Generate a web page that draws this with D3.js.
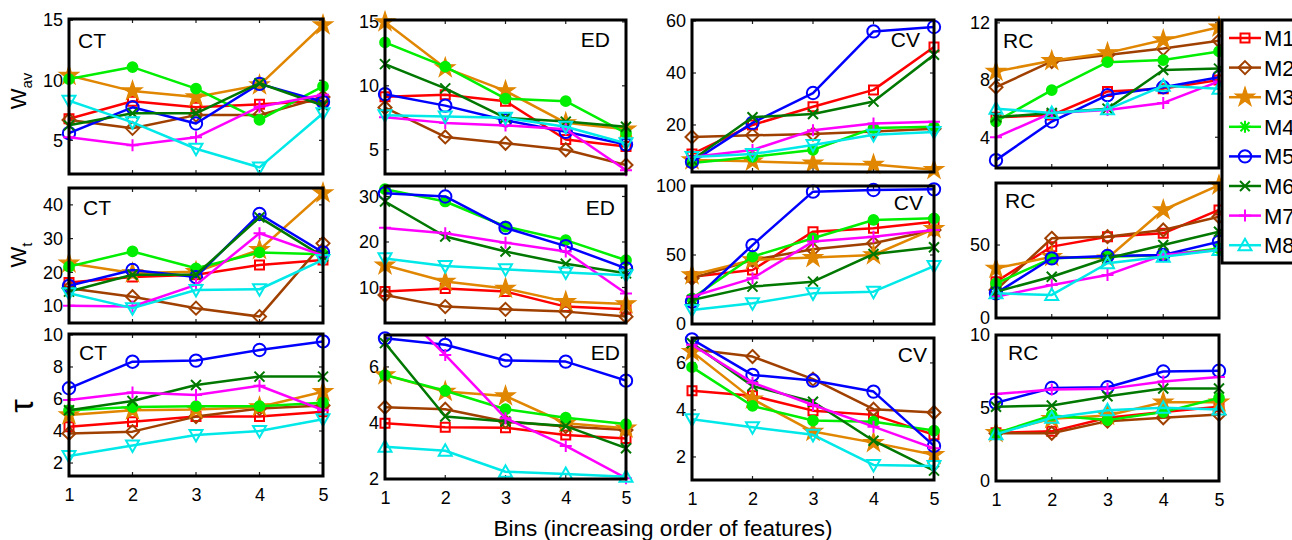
<!DOCTYPE html>
<html><head><meta charset="utf-8">
<script src="https://cdn.jsdelivr.net/npm/d3@7"></script>
<style>
body{margin:0;background:#fff}
svg{display:block}
text{font-family:"Liberation Sans",Arial,Helvetica,sans-serif;fill:#000}
</style>
</head><body>
<svg id="chart" width="1292" height="540"></svg>
<script>
// ---------------- data ----------------
const bins = [1, 2, 3, 4, 5];
const seriesNames = ["M1", "M2", "M3", "M4", "M5", "M6", "M7", "M8"];
const seriesColors = ["#ff0000", "#a04000", "#e08600", "#00ee00", "#0000ff", "#007800", "#ff00ff", "#00e8e8"];
const seriesMarkers = ["square", "diamond", "star", "dot", "circle", "x", "plus", "tri"];

// W_av row
const wavCT = [
  [6.8, 8.25, 7.75, 8.0, 8.3],
  [6.7, 6.0, 7.1, 7.1, 8.6],
  [10.4, 9.1, 8.6, 9.6, 14.6],
  [10.1, 11.1, 9.3, 6.7, 9.5],
  [5.6, 7.75, 6.4, 9.7, 8.2],
  [6.25, 7.25, 7.25, 9.75, 7.9],
  [5.25, 4.6, 5.25, 7.8, 8.8],
  [8.3, 6.5, 4.3, 2.75, 7.25]
];
const wavED = [
  [9.15, 9.3, 8.8, 5.8, 5.25],
  [8.3, 6.0, 5.5, 5.0, 3.8],
  [15.0, 11.4, 9.6, 7.1, 6.6],
  [13.4, 11.5, 9.0, 8.8, 6.3],
  [9.35, 8.45, 7.3, 6.4, 5.4],
  [11.7, 9.8, 7.5, 7.2, 6.8],
  [7.55, 7.1, 6.9, 6.6, 3.4],
  [7.7, 7.6, 7.5, 6.8, 5.5]
];
const wavCV = [
  [8.8, 20, 27, 33.5, 50],
  [15.4, 16, 16.5, 17.5, 18.5],
  [6.5, 6, 5.3, 4.8, 2.8],
  [5.4, 7.7, 10.4, 18.8, 19.3],
  [5.8, 20.8, 32.3, 56, 57.7],
  [6.5, 23, 24.2, 29, 47],
  [7.7, 10.4, 18, 20.6, 21.2],
  [7.7, 8.8, 12.3, 16.2, 17.3]
];
const wavRC = [
  [5.4, 5.55, 7.2, 7.4, 8.0],
  [7.5, 9.3, 9.75, 10.2, 10.75],
  [8.6, 9.35, 9.9, 10.8, 11.7],
  [5.1, 7.3, 9.25, 9.4, 10.0],
  [2.4, 5.1, 6.95, 7.5, 8.2],
  [5.4, 5.7, 6.0, 8.7, 8.8],
  [4.0, 5.7, 5.9, 6.4, 7.9],
  [6.0, 5.7, 5.95, 7.6, 7.4]
];
// W_t row
const wtCT = [
  [17.0, 18.6, 19.3, 22.2, 23.7],
  [15.3, 12.8, 9.4, 6.9, 28.6],
  [22.7, 19.8, 20.2, 26.7, 43.5],
  [21.7, 26.2, 21.2, 25.9, 25.4],
  [16.0, 20.7, 18.6, 37.3, 25.9],
  [14.3, 19.3, 19.3, 36.3, 24.7],
  [10.1, 9.9, 16.3, 31.6, 25.0],
  [13.8, 9.4, 14.8, 15.0, 23.7]
];
const wtED = [
  [9.1, 9.8, 9.1, 5.8, 5.2],
  [8.35, 5.8, 5.2, 4.7, 3.6],
  [14.9, 11.3, 9.8, 6.9, 6.4],
  [31.6, 28.9, 23.4, 20.4, 16.0],
  [30.7, 30.0, 23.1, 19.1, 14.2],
  [28.9, 21.2, 17.9, 15.2, 13.1],
  [23.1, 21.9, 19.85, 17.9, 8.7],
  [16.4, 14.7, 14.0, 13.3, 12.7]
];
const wtCV = [
  [34.3, 39.1, 66.9, 69.3, 74.1],
  [33.1, 46.4, 54.1, 58.5, 68.1],
  [35.5, 46.4, 48.1, 50, 69],
  [18.6, 48.8, 62.1, 75.4, 76.6],
  [16.2, 57.2, 95.9, 97.1, 97.6],
  [17.4, 27.1, 30.7, 50.7, 55.6],
  [19.8, 33.1, 59.7, 63.3, 68.1],
  [10.1, 15, 22.2, 23.4, 42]
];
const wtRC = [
  [24.9, 48.9, 55.7, 58, 74],
  [19.2, 54.6, 55.7, 60.3, 69.4],
  [34, 42, 41, 74, 91],
  [23.7, 40.9, 42, 43, 47.7],
  [16.9, 40.9, 42.5, 43.2, 52.3],
  [18, 28.3, 40.9, 50, 59.1],
  [14.6, 22.6, 29.5, 43.2, 46.6],
  [16.9, 15.8, 37.5, 42, 46.6]
];
// tau row
const tauCT = [
  [4.27, 4.58, 4.9, 4.9, 5.2],
  [3.85, 3.96, 4.9, 5.4, 5.6],
  [5.0, 5.3, 5.35, 5.5, 6.45],
  [5.3, 5.5, 5.55, 5.55, 5.77],
  [6.67, 8.33, 8.4, 9.06, 9.6],
  [5.3, 5.87, 6.87, 7.4, 7.4],
  [5.93, 6.4, 6.25, 6.83, 5.3],
  [2.44, 3.1, 3.75, 4.0, 4.73]
];
const tauED = [
  [3.99, 3.85, 3.83, 3.57, 3.45],
  [4.56, 4.49, 4.05, 3.87, 3.75],
  [5.71, 5.12, 4.96, 3.99, 3.81],
  [5.71, 5.15, 4.49, 4.19, 3.96],
  [7.02, 6.79, 6.23, 6.19, 5.51],
  [6.85, 4.23, 4.05, 3.89, 3.1],
  [8.56, 6.43, 4.17, 3.18, 2.03],
  [3.15, 3.01, 2.26, 2.18, 2.08]
];
const tauCV = [
  [4.82, 4.6, 3.97, 3.79, 2.94],
  [6.58, 6.27, 5.31, 4.03, 3.89],
  [6.48, 4.46, 3.08, 2.61, 2.09],
  [5.82, 4.17, 3.55, 3.5, 3.12],
  [7.0, 5.49, 5.25, 4.78, 2.47],
  [6.84, 5.02, 4.35, 2.69, 1.42],
  [6.77, 5.16, 4.21, 3.29, 2.37],
  [3.6, 3.26, 2.94, 1.66, 1.62]
];
const tauRC = [
  [3.31, 3.4, 4.33, 4.72, 5.08],
  [3.27, 3.27, 4.1, 4.33, 4.56],
  [3.31, 4.26, 4.49, 5.4, 5.4],
  [3.27, 4.49, 4.17, 4.72, 5.69],
  [5.35, 6.37, 6.42, 7.5, 7.55],
  [5.08, 5.17, 5.8, 6.33, 6.33],
  [5.96, 6.26, 6.31, 6.82, 7.12],
  [3.2, 4.33, 4.85, 5.01, 4.9]
];

const ticksWavCT = [5, 10, 15], ticksWavED = [5, 10, 15], ticksWavCV = [20, 40, 60], ticksWavRC = [4, 8, 12];
const ticksWtCT = [10, 20, 30, 40], ticksWtED = [10, 20, 30], ticksWtCV = [0, 50, 100], ticksWtRC = [0, 50];
const ticksTauCT = [2, 4, 6, 8, 10], ticksTauED = [2, 4, 6], ticksTauCV = [2, 4, 6], ticksTauRC = [0, 5, 10];
const panelLabels = ["CT", "ED", "CV", "RC"];
const xTitle = "Bins (increasing order of features)";

// ---------------- layout ----------------
const cols = [[69, 323], [385, 626], [692, 934], [996, 1219]];
const panels = [
  {data: wavCT, ticks: ticksWavCT, dom: [2.2, 15.1], y: [19, 174], lab: 0, lx: 78, ly: 48, anchor: "start", c: 0, tri: "down"},
  {data: wavED, ticks: ticksWavED, dom: [3.1, 15.15], y: [20, 174], lab: 1, lx: 610, ly: 47, anchor: "end", c: 1, tri: "down"},
  {data: wavCV, ticks: ticksWavCV, dom: [1.9, 60.4], y: [20, 172], lab: 2, lx: 920, ly: 47, anchor: "end", c: 2, tri: "down"},
  {data: wavRC, ticks: ticksWavRC, dom: [1.85, 12.2], y: [20, 168], lab: 3, lx: 1003, ly: 48, anchor: "start", c: 3, tri: "up"},
  {data: wtCT, ticks: ticksWtCT, dom: [5, 45], y: [188, 323], lab: 0, lx: 83, ly: 215, anchor: "start", c: 0, tri: "down"},
  {data: wtED, ticks: ticksWtED, dom: [2.2, 32.3], y: [186, 323], lab: 1, lx: 615, ly: 215, anchor: "end", c: 1, tri: "down"},
  {data: wtCV, ticks: ticksWtCV, dom: [0, 100], y: [186, 324], lab: 2, lx: 923, ly: 210, anchor: "end", c: 2, tri: "down"},
  {data: wtRC, ticks: ticksWtRC, dom: [0, 92.5], y: [183, 318], lab: 3, lx: 1005, ly: 208, anchor: "start", c: 3, tri: "up"},
  {data: tauCT, ticks: ticksTauCT, dom: [1.19, 10.06], y: [334, 476], lab: 0, lx: 79, ly: 360, anchor: "start", c: 0, tri: "down", xl: true},
  {data: tauED, ticks: ticksTauED, dom: [2, 7.14], y: [335, 479], lab: 1, lx: 620, ly: 360, anchor: "end", c: 1, tri: "up", xl: true},
  {data: tauCV, ticks: ticksTauCV, dom: [1.02, 7.06], y: [338, 480], lab: 2, lx: 927, ly: 362, anchor: "end", c: 2, tri: "down", xl: true},
  {data: tauRC, ticks: ticksTauRC, dom: [0, 10], y: [335, 481], lab: 3, lx: 1008, ly: 360, anchor: "start", c: 3, tri: "up", xl: true}
];

const svg = d3.select("#chart");
const defs = svg.append("defs");

function markerPath(type, tri) {
  switch (type) {
    case "square": return "M-4.5,-4.5H4.5V4.5H-4.5Z";
    case "diamond": return "M0,-6.5L6.5,0L0,6.5L-6.5,0Z";
    case "star": return d3.symbol(d3.symbolStar, 115)();
    case "dot": return d3.symbol(d3.symbolCircle, 75)();
    case "circle": return d3.symbol(d3.symbolCircle, 120)();
    case "x": return "M-5,-5L5,5M-5,5L5,-5";
    case "plus": return "M-6,0H6M0,-6V6";
    case "tri": return tri === "up" ? "M-6.5,5H6.5L0,-6.5Z" : "M-6.5,-5H6.5L0,6.5Z";
    case "asterisk": return "M-6,0H6M0,-6V6M-4.5,-4.5L4.5,4.5M-4.5,4.5L4.5,-4.5";
  }
}
function markerFill(type, col) { return (type === "star" || type === "dot") ? col : "none"; }
function markerStroke(type) { return type === "star" ? 1.2 : 2; }

panels.forEach((p, pi) => {
  const [x0, x1] = cols[p.c];
  const [y0, y1] = p.y;
  const x = d3.scaleLinear().domain([1, 5]).range([x0, x1]);
  const y = d3.scaleLinear().domain(p.dom).range([y1, y0]);
  const g = svg.append("g");
  g.append("rect").attr("x", x0).attr("y", y0).attr("width", x1 - x0).attr("height", y1 - y0).attr("fill", "#fff");

  defs.append("clipPath").attr("id", "clip" + pi).append("rect")
    .attr("x", x0).attr("y", y0).attr("width", x1 - x0).attr("height", y1 - y0);

  // ticks inside (left/right/top/bottom)
  const tk = g.append("g").attr("stroke", "#222").attr("stroke-width", 1.2);
  p.ticks.forEach(t => {
    const yy = y(t);
    if (yy < y0 - 0.5 || yy > y1 + 0.5) return;
    tk.append("line").attr("x1", x0).attr("x2", x0 + 4).attr("y1", yy).attr("y2", yy);
    tk.append("line").attr("x1", x1).attr("x2", x1 - 4).attr("y1", yy).attr("y2", yy);
  });
  bins.forEach(b => {
    tk.append("line").attr("x1", x(b)).attr("x2", x(b)).attr("y1", y0).attr("y2", y0 + 4);
    tk.append("line").attr("x1", x(b)).attr("x2", x(b)).attr("y1", y1).attr("y2", y1 - 4);
  });

  // y tick labels
  const yAxis = d3.axisLeft(y).tickValues(p.ticks).tickSize(0).tickPadding(6).tickFormat(d3.format("d"));
  const ya = g.append("g").attr("transform", `translate(${x0},0)`).call(yAxis);
  ya.select(".domain").remove();
  ya.selectAll("text").attr("font-size", 18).attr("font-family", '"Liberation Sans",Arial,sans-serif').attr("fill", "#000");

  if (p.xl) {
    const xAxis = d3.axisBottom(x).tickValues(bins).tickSize(0).tickPadding(12).tickFormat(d3.format("d"));
    const xa = g.append("g").attr("transform", `translate(0,${y1})`).call(xAxis);
    xa.select(".domain").remove();
    xa.selectAll("text").attr("font-size", 18).attr("font-family", '"Liberation Sans",Arial,sans-serif').attr("fill", "#000");
  }

  // series
  const line = d3.line().x((d, i) => x(bins[i])).y(d => y(d));
  p.data.forEach((vals, si) => {
    const col = seriesColors[si];
    g.append("path").datum(vals).attr("d", line)
      .attr("fill", "none").attr("stroke", col).attr("stroke-width", 2.5)
      .attr("stroke-linejoin", "round").attr("clip-path", `url(#clip${pi})`);
    const mk = seriesMarkers[si];
    g.selectAll(null).data(vals.map((v, i) => [bins[i], v]).filter(d => d[1] >= p.dom[0] && d[1] <= p.dom[1]))
      .enter().append("path")
      .attr("transform", d => `translate(${x(d[0])},${y(d[1])})`)
      .attr("d", markerPath(mk, p.tri))
      .attr("fill", markerFill(mk, col))
      .attr("stroke", col).attr("stroke-width", markerStroke(mk));
  });

  // frame
  g.append("rect").attr("x", x0).attr("y", y0).attr("width", x1 - x0).attr("height", y1 - y0)
    .attr("fill", "none").attr("stroke", "#000").attr("stroke-width", 3);

  g.append("text").attr("x", p.lx).attr("y", p.ly).attr("text-anchor", p.anchor)
    .attr("font-size", 21).text(panelLabels[p.lab]);
});

// y-axis titles
function yTitle(cx, cy, main, sub, size) {
  const t = svg.append("text").attr("transform", `translate(${cx},${cy}) rotate(-90)`)
    .attr("text-anchor", "middle").attr("font-size", size);
  t.append("tspan").text(main);
  if (sub) t.append("tspan").attr("font-size", 15).attr("dy", 6).text(sub);
}
yTitle(26, 91, "W", "av", 22);
yTitle(26, 255, "W", "t", 22);
yTitle(33, 406, "τ", null, 34);

svg.append("text").attr("x", 663).attr("y", 536).attr("text-anchor", "middle")
  .attr("font-size", 22.5).text(xTitle);

// legend
const lg = svg.append("g");
lg.append("rect").attr("x", 1222).attr("y", 20).attr("width", 100).attr("height", 243)
  .attr("fill", "#fff").attr("stroke", "#000").attr("stroke-width", 3);
seriesNames.forEach((n, i) => {
  const yy = 38 + i * 29.6;
  const col = seriesColors[i];
  const mk = seriesMarkers[i] === "dot" ? "asterisk" : seriesMarkers[i];
  lg.append("line").attr("x1", 1229).attr("x2", 1261).attr("y1", yy).attr("y2", yy)
    .attr("stroke", col).attr("stroke-width", 2.5);
  lg.append("path").attr("transform", `translate(1245,${yy})`).attr("d", markerPath(mk, "up"))
    .attr("fill", markerFill(mk, col)).attr("stroke", col).attr("stroke-width", markerStroke(mk));
  lg.append("text").attr("x", 1264).attr("y", yy).attr("dy", "0.36em").attr("font-size", 22).text(n);
});
</script>
</body></html>
